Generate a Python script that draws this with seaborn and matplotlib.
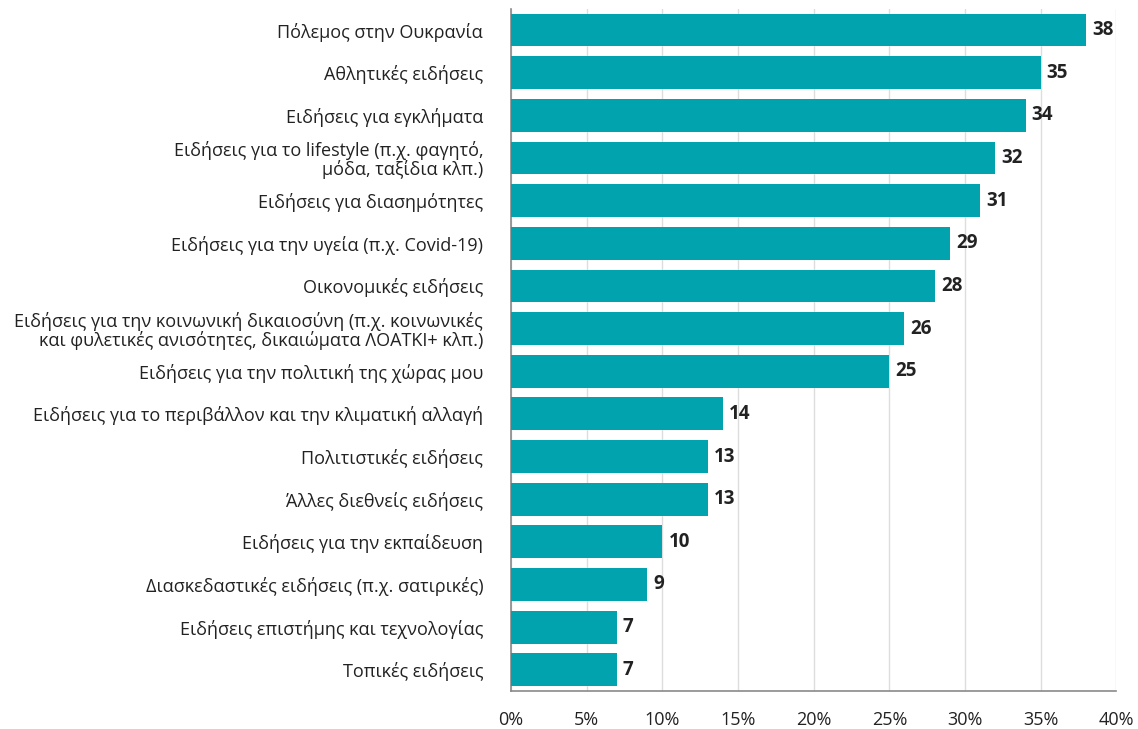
import numpy as np
import pandas as pd
import matplotlib
matplotlib.use("Agg")
import matplotlib.pyplot as plt
import seaborn as sns
from matplotlib.ticker import FixedLocator, FuncFormatter

categories = [
    "Πόλεμος στην Ουκρανία",
    "Αθλητικές ειδήσεις",
    "Ειδήσεις για εγκλήματα",
    "Ειδήσεις για το lifestyle (π.χ. φαγητό,\nμόδα, ταξίδια κλπ.)",
    "Ειδήσεις για διασημότητες",
    "Ειδήσεις για την υγεία (π.χ. Covid-19)",
    "Οικονομικές ειδήσεις",
    "Ειδήσεις για την κοινωνική δικαιοσύνη (π.χ. κοινωνικές\nκαι φυλετικές ανισότητες, δικαιώματα ΛΟΑΤΚΙ+ κλπ.)",
    "Ειδήσεις για την πολιτική της χώρας μου",
    "Ειδήσεις για το περιβάλλον και την κλιματική αλλαγή",
    "Πολιτιστικές ειδήσεις",
    "Άλλες διεθνείς ειδήσεις",
    "Ειδήσεις για την εκπαίδευση",
    "Διασκεδαστικές ειδήσεις (π.χ. σατιρικές)",
    "Ειδήσεις επιστήμης και τεχνολογίας",
    "Τοπικές ειδήσεις",
]
values = [38, 35, 34, 32, 31, 29, 28, 26, 25, 14, 13, 13, 10, 9, 7, 7]

df = pd.DataFrame({"topic": categories, "pct": values})

sns.set_style("white")
plt.rcParams["font.family"] = ["Open Sans", "DejaVu Sans"]

fig, ax = plt.subplots(figsize=(11.38, 7.29), dpi=100)
fig.subplots_adjust(left=0.449, right=0.981, bottom=0.052, top=0.988)

sns.barplot(data=df, x="pct", y="topic", color="#00A3AE", saturation=1,
            width=0.77, linewidth=0, ax=ax, zorder=3)

ax.set_xlim(0, 40)
ax.set_ylim(len(categories) - 0.5, -0.5)
ax.set_xticks(np.arange(0, 41, 5))
ax.xaxis.set_major_formatter(FuncFormatter(lambda v, p: f"{int(v)}%"))
ax.grid(axis="x", color="#dddddd", linewidth=1, zorder=0)
ax.set_axisbelow(True)

ax.set_xlabel("")
ax.set_ylabel("")
for s in ["top", "right"]:
    ax.spines[s].set_visible(False)
ax.spines["left"].set_color("#8a8a8a")
ax.spines["bottom"].set_color("#8a8a8a")
ax.spines["left"].set_linewidth(1.2)
ax.spines["bottom"].set_linewidth(1.2)

# category ticks sit between the bars
ax.tick_params(axis="y", which="major", length=0, labelsize=13, pad=20,
               labelcolor="#222222")
for lbl in ax.get_yticklabels():
    lbl.set_linespacing(1.0)
ax.yaxis.set_minor_locator(FixedLocator(np.arange(0.5, len(categories) - 1, 1)))
ax.tick_params(axis="y", which="minor", length=6, color="#666666", width=1)
ax.tick_params(axis="x", length=6, color="#666666", labelsize=13,
               labelcolor="#222222", pad=8)

for i, v in enumerate(values):
    ax.text(v + 0.4, i, str(v), va="center", ha="left", fontsize=13.5,
            fontweight="bold", color="#222222")

fig.savefig("out.png", dpi=100)
